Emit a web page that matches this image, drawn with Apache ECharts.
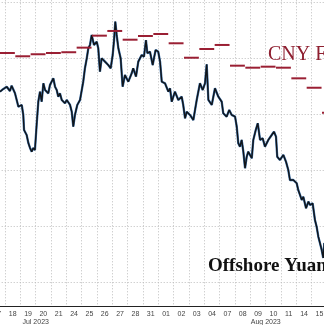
<!DOCTYPE html>
<html><head><meta charset="utf-8">
<script src="https://cdn.jsdelivr.net/npm/echarts@6/dist/echarts.min.js"></script>
<style>html,body{margin:0;padding:0;background:#fff;overflow:hidden}#c{width:324px;height:325px}</style>
</head><body><div id="c"></div>
<script>
// trading days shown (day-of-month labels), Jul 17 .. Aug 15 2023
const dayLabels = ['17','18','19','20','21','24','25','26','27','28','31','01','02','03','04','07','08','09','10','11','14','15'];
// month captions, keyed by the trading-day boundary under which they are written
const monthLabels = {3: 'Jul 2023', 18: 'Aug 2023'};
// CNY fixing for trading days 1..22 (Jul 18 .. Aug 16)
const fixing = [7.1453,7.1482,7.1464,7.1453,7.1446,7.1405,7.1298,7.1256,7.1334,7.1301,7.1283,7.1366,7.1495,7.1417,7.1381,7.1566,7.1584,7.1575,7.1584,7.1679,7.1763,7.1986];
// offshore USD/CNH: position in trading days since Jul 17 open, and the rate
const cnhPos = [0.67,0.89,1.11,1.32,1.43,1.65,1.76,1.87,2.09,2.19,2.24,2.41,2.52,2.63,2.74,2.84,2.95,3.06,3.17,3.28,3.39,3.50,3.61,3.72,3.82,3.93,4.15,4.26,4.37,4.47,4.58,4.70,4.91,5.02,5.24,5.35,5.45,5.56,5.71,5.89,6.00,6.10,6.21,6.33,6.43,6.54,6.65,6.72,6.80,6.98,7.08,7.19,7.30,7.52,7.73,7.89,8.02,8.11,8.19,8.28,8.39,8.54,8.67,8.82,9.04,9.26,9.36,9.54,9.69,9.91,10.06,10.19,10.28,10.45,10.63,10.71,10.82,10.99,11.11,11.22,11.43,11.65,11.76,11.87,12.08,12.30,12.52,12.62,12.74,12.85,13.06,13.28,13.50,13.71,13.89,14.04,14.15,14.26,14.48,14.69,14.91,15.13,15.23,15.45,15.62,15.78,16.00,16.11,16.21,16.32,16.43,16.54,16.65,16.76,16.86,17.09,17.19,17.35,17.48,17.63,17.80,17.95,18.17,18.39,18.54,18.67,18.75,18.93,19.15,19.32,19.47,19.58,19.80,20.02,20.12,20.35,20.45,20.63,20.78,20.89,21.06,21.21,21.32,21.43,21.54,21.65,21.75,21.82];
const cnhRate = [7.1798,7.1774,7.1754,7.1792,7.1745,7.1813,7.1872,7.1932,7.1917,7.2006,7.2140,7.2185,7.2256,7.2301,7.2334,7.2301,7.2319,7.2096,7.1888,7.1798,7.1888,7.1723,7.1783,7.1768,7.1813,7.1738,7.1679,7.1754,7.1783,7.1843,7.1813,7.1872,7.1902,7.1872,7.1917,7.1977,7.2111,7.2006,7.1917,7.1872,7.1888,7.1709,7.1589,7.1500,7.1411,7.1381,7.1292,7.1277,7.1381,7.1352,7.1411,7.1620,7.1500,7.1530,7.1560,7.1589,7.1471,7.1337,7.1173,7.1292,7.1411,7.1500,7.1754,7.1649,7.1709,7.1634,7.1589,7.1664,7.1530,7.1471,7.1486,7.1337,7.1455,7.1441,7.1560,7.1500,7.1426,7.1441,7.1530,7.1709,7.1723,7.1798,7.1768,7.1888,7.1798,7.1872,7.1843,7.1917,7.2036,7.1977,7.2006,7.2051,7.1872,7.1723,7.1783,7.1723,7.1554,7.1872,7.1917,7.1768,7.1843,7.1888,7.1991,7.2021,7.1962,7.2006,7.2021,7.2111,7.2259,7.2289,7.2229,7.2334,7.2482,7.2379,7.2334,7.2393,7.2229,7.2140,7.2080,7.2229,7.2214,7.2289,7.2229,7.2185,7.2155,7.2200,7.2379,7.2408,7.2363,7.2423,7.2497,7.2587,7.2587,7.2616,7.2676,7.2765,7.2736,7.2839,7.2780,7.2810,7.2795,7.2944,7.3004,7.3093,7.3152,7.3212,7.3283,7.3149];

const n = Math.min(cnhPos.length, cnhRate.length);
const cnhData = [];
for (let i = 0; i < n; i++) cnhData.push([cnhPos[i], cnhRate[i]]);
const fixData = fixing.map((v, i) => [i + 1, v]);

const grid = '#bdbdbd';
const chart = echarts.init(document.getElementById('c'), null, {renderer: 'canvas'});
chart.setOption({
  animation: false,
  backgroundColor: '#fff',
  grid: {left: -10.3, right: -3.07, top: -53.7, bottom: 19, containLabel: false, outerBoundsMode: 'none'},
  xAxis: [{
    type: 'value', min: 0, max: 22, interval: 1, position: 'bottom',
    axisLine: {show: true, onZero: false, lineStyle: {color: '#222', width: 1.2}},
    axisTick: {show: false},
    axisLabel: {show: true, formatter: v => monthLabels[v] || '', fontSize: 7, color: '#444',
      fontFamily: 'Liberation Sans, Arial, sans-serif', margin: 13, showMinLabel: true, showMaxLabel: true, hideOverlap: false},
    splitLine: {show: true, lineStyle: {color: grid, width: 1, type: [1, 2]}}
  }, {
    type: 'category', data: dayLabels, boundaryGap: true, position: 'bottom',
    axisLine: {show: false}, axisTick: {show: false},
    axisLabel: {interval: 0, fontSize: 7, color: '#444', fontFamily: 'Liberation Sans, Arial, sans-serif', margin: 4.5},
    splitLine: {show: false}
  }],
  yAxis: {
    type: 'value', inverse: true, min: 7.05, max: 7.3712, interval: 0.05, position: 'right',
    axisLine: {show: false}, axisTick: {show: false}, axisLabel: {show: false},
    splitLine: {show: true, lineStyle: {color: grid, width: 1, type: [1, 2]}}
  },
  series: [{
    type: 'line', xAxisIndex: 0, data: cnhData, showSymbol: false, smooth: false,
    lineStyle: {color: '#3a6fa8', width: 2.3}, z: 3
  }, {
    type: 'line', xAxisIndex: 0, data: cnhData, showSymbol: false, smooth: false,
    lineStyle: {color: '#111418', width: 1.4}, z: 4
  }, {
    type: 'custom', xAxisIndex: 0, data: fixData, z: 5,
    renderItem: function (params, api) {
      const d = api.value(0), v = api.value(1);
      const p1 = api.coord([d - 0.33, v]);
      const p2 = api.coord([d + 0.64, v]);
      return {type: 'line', shape: {x1: p1[0], y1: p1[1], x2: p2[0], y2: p2[1]},
        style: {stroke: '#9a1f33', lineWidth: 2}};
    }
  }],
  graphic: [{
    type: 'text', left: 208, top: 257, z: 10,
    style: {text: 'Offshore Yuan', font: 'bold 19px "Liberation Serif", "Times New Roman", serif', fill: '#111'}
  }, {
    type: 'text', left: 268, top: 44.5, z: 10,
    style: {text: 'CNY Fixing', font: '20px "Liberation Serif", "Times New Roman", serif', fill: '#8e1f30'}
  }]
});
</script></body></html>
